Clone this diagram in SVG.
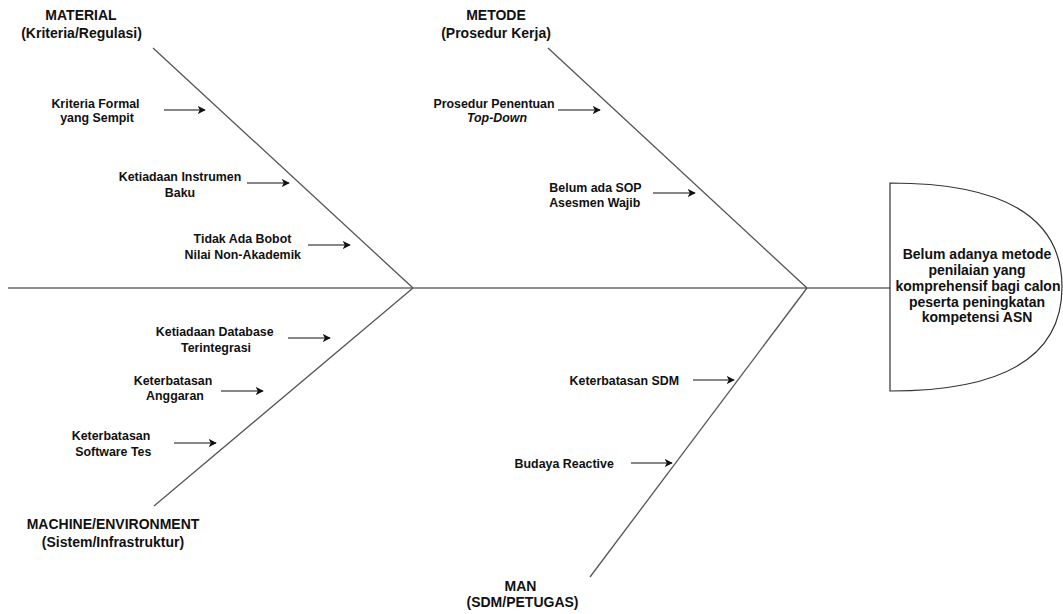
<svg xmlns="http://www.w3.org/2000/svg" width="1063" height="614" viewBox="0 0 1063 614">
<style>
text{font-family:"Liberation Sans",Arial,sans-serif;fill:#111;text-anchor:middle;font-weight:bold}
.t{font-size:14px}
.c{font-size:12.4px}
.h{font-size:14px}
.rib{stroke:#555;stroke-width:1.3;fill:none}
.spine{stroke:#222;stroke-width:1.2;fill:none}
.arr{stroke:#111;stroke-width:1.2;fill:none;marker-end:url(#ah)}
</style>
<defs>
<marker id="ah" viewBox="0 0 10 10" refX="9" refY="5" markerWidth="8" markerHeight="8" markerUnits="userSpaceOnUse" orient="auto">
<path d="M0,0 L10,5 L0,10 L2.5,5 Z" fill="#111"/>
</marker>
</defs>
<g id="connectors">
<line class="spine" x1="8" y1="288" x2="890" y2="288"/>
<line class="rib" x1="153" y1="48" x2="413" y2="288"/>
<line class="rib" x1="413" y1="288" x2="154" y2="506"/>
<line class="rib" x1="548" y1="48" x2="807" y2="288"/>
<line class="rib" x1="807" y1="288" x2="590" y2="577"/>
<line class="arr" x1="164" y1="110" x2="205" y2="110"/>
<line class="arr" x1="247" y1="183" x2="289" y2="183"/>
<line class="arr" x1="308" y1="245" x2="350" y2="245"/>
<line class="arr" x1="558" y1="110" x2="600" y2="110"/>
<line class="arr" x1="653" y1="193" x2="695" y2="193"/>
<line class="arr" x1="288" y1="338" x2="330" y2="338"/>
<line class="arr" x1="221" y1="391" x2="263" y2="391"/>
<line class="arr" x1="174" y1="443" x2="216" y2="443"/>
<line class="arr" x1="693" y1="380" x2="734" y2="380"/>
<line class="arr" x1="631" y1="463" x2="672" y2="463"/>
</g>
<g id="head">
<path d="M890,183 Q1062,183 1062,287 Q1062,391 890,391 Z" fill="#fff" stroke="#333" stroke-width="1.2"/>
<text class="h" x="977" y="259">Belum adanya metode</text>
<text class="h" x="977" y="275">penilaian yang</text>
<text class="h" x="978" y="291">komprehensif bagi calon</text>
<text class="h" x="977" y="306.5">peserta peningkatan</text>
<text class="h" x="977" y="321.5">kompetensi ASN</text>
</g>
<g id="cat-material">
<text class="t" x="81" y="20">MATERIAL</text>
<text class="t" x="81.5" y="38">(Kriteria/Regulasi)</text>
</g>
<g id="cat-metode">
<text class="t" x="496" y="20">METODE</text>
<text class="t" x="496" y="38">(Prosedur Kerja)</text>
</g>
<g id="cat-machine">
<text class="t" x="113" y="529">MACHINE/ENVIRONMENT</text>
<text class="t" x="113" y="547">(Sistem/Infrastruktur)</text>
</g>
<g id="cat-man">
<text class="t" x="520.5" y="591">MAN</text>
<text class="t" x="522.5" y="607">(SDM/PETUGAS)</text>
</g>
<g id="cause-kriteria">
<text class="c" x="95.5" y="108">Kriteria Formal</text>
<text class="c" x="97" y="122">yang Sempit</text>
</g>
<g id="cause-instrumen">
<text class="c" x="180" y="181">Ketiadaan Instrumen</text>
<text class="c" x="180" y="197">Baku</text>
</g>
<g id="cause-bobot">
<text class="c" x="242.5" y="243">Tidak Ada Bobot</text>
<text class="c" x="242.8" y="259">Nilai Non-Akademik</text>
</g>
<g id="cause-prosedur">
<text class="c" x="494" y="108">Prosedur Penentuan</text>
<text class="c" x="497" y="122" font-style="italic">Top-Down</text>
</g>
<g id="cause-sop">
<text class="c" x="595.5" y="192">Belum ada SOP</text>
<text class="c" x="594.7" y="207">Asesmen Wajib</text>
</g>
<g id="cause-database">
<text class="c" x="214.7" y="336">Ketiadaan Database</text>
<text class="c" x="216" y="352">Terintegrasi</text>
</g>
<g id="cause-anggaran">
<text class="c" x="173" y="385">Keterbatasan</text>
<text class="c" x="175" y="400">Anggaran</text>
</g>
<g id="cause-software">
<text class="c" x="111" y="440">Keterbatasan</text>
<text class="c" x="113.3" y="456">Software Tes</text>
</g>
<g id="cause-sdm">
<text class="c" x="624.3" y="385">Keterbatasan SDM</text>
</g>
<g id="cause-budaya">
<text class="c" x="564.2" y="468">Budaya Reactive</text>
</g>
</svg>
